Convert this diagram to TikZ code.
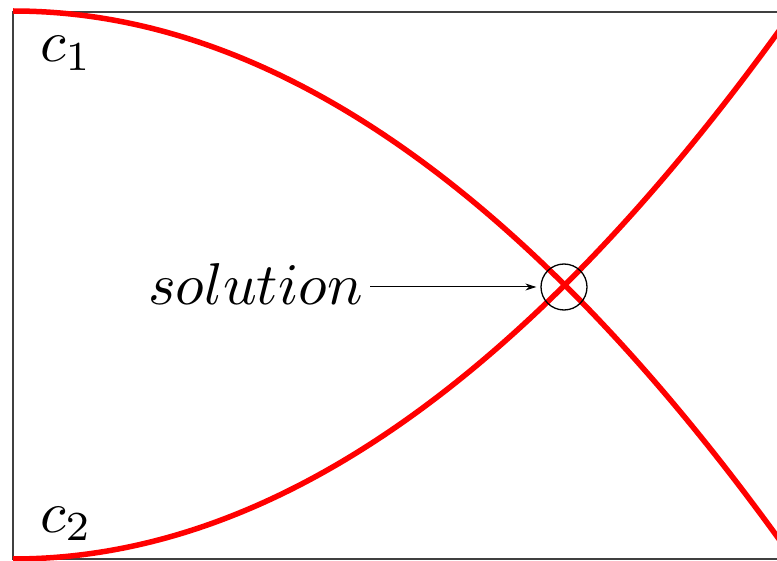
\documentclass[tikz,border=0pt]{standalone}
\usepackage{graphicx}
\usetikzlibrary{arrows.meta}
\newcommand{\bigtxt}[1]{\scalebox{5.9}{#1}}
\begin{document}
\begin{tikzpicture}[x=1pt,y=-1pt,
  curve/.style={red, line width=5.5pt},
  frame/.style={line width=1.2pt, black!75},
  lbl/.style={inner sep=0pt},
  mark circle/.style={circle, draw, line width=1.3pt, minimum size=46pt, inner sep=0pt},
  pointer/.style={line width=1pt, -{Stealth[length=11pt,width=7pt]}}]
\useasboundingbox (0,0) rectangle (777,561);
\clip (0,0) rectangle (777,561);
\draw[frame] (800,12) -- (13,12) -- (13,559) -- (800,559);
\draw[curve] plot[domain=13:800, samples=120] (\x, {11+9*((\x-13)/100)^2});
\draw[curve] plot[domain=13:800, samples=120] (\x, {559-9*((\x-13)/100)^2});
\node[lbl, anchor=base west] (c1) at (40,62) {\bigtxt{$c_1$}};
\node[lbl, anchor=base west] (c2) at (40,532) {\bigtxt{$c_2$}};
\node[lbl, anchor=base east] (sol) at (363,305) {\bigtxt{$solution$}};
\node[mark circle] (pt) at (564,287) {};
\path (sol.east |- pt.west) ++(7pt,0) coordinate (arrowstart);
\draw[pointer] (arrowstart) -- ([xshift=-4pt]pt.west);
\end{tikzpicture}
\end{document}
